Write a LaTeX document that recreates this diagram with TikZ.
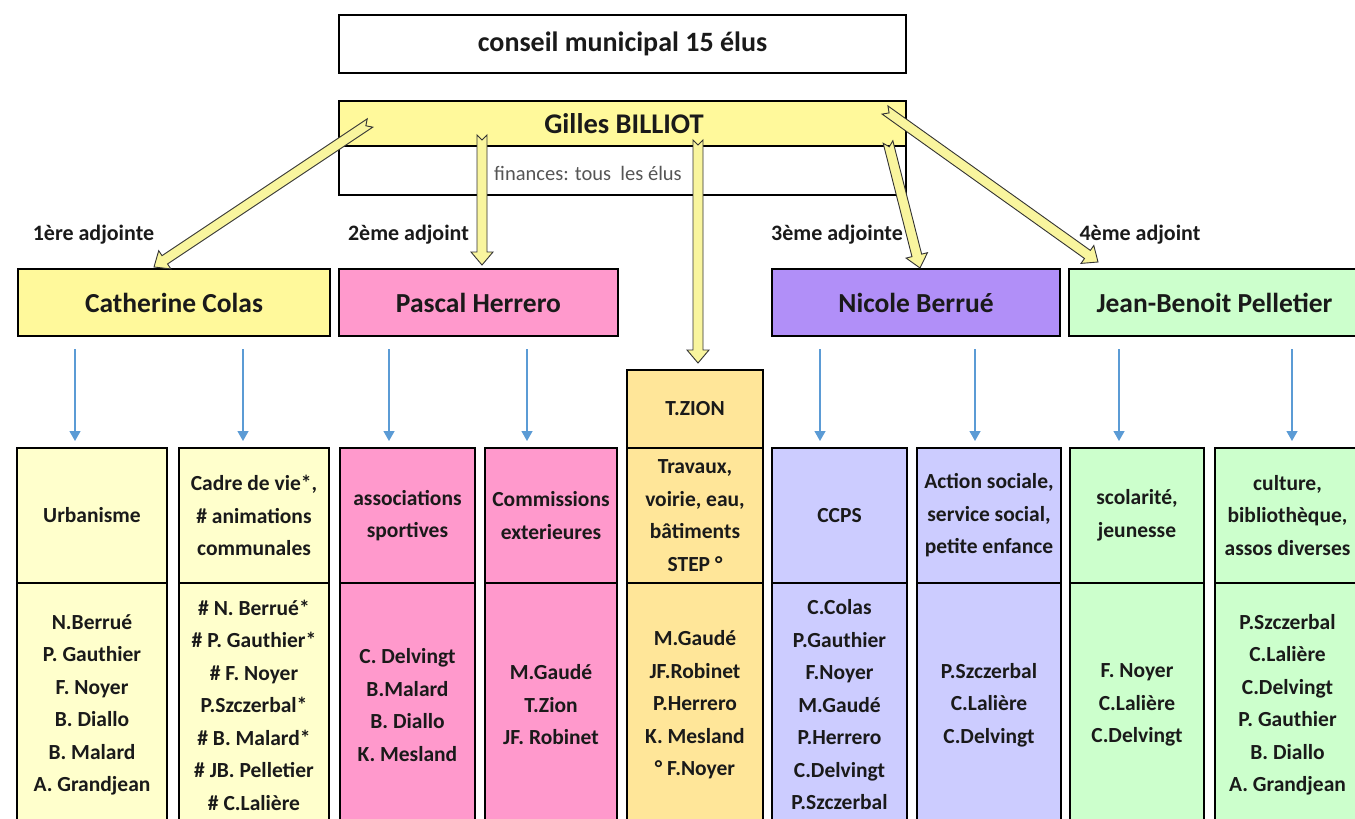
\documentclass[tikz,border=0pt]{standalone}
\usepackage{fontspec}
\setmainfont{Carlito}
\usetikzlibrary{calc,arrows.meta}

\definecolor{yel}{HTML}{FFF99B}
\definecolor{yelarrow}{HTML}{F9F59E}
\definecolor{pinkc}{HTML}{FF99CC}
\definecolor{purp}{HTML}{B18FF8}
\definecolor{greenc}{HTML}{CCFFCC}
\definecolor{lyel}{HTML}{FFFFCC}
\definecolor{tz}{HTML}{FFE699}
\definecolor{lpurp}{HTML}{CCCCFF}
\definecolor{bluea}{HTML}{5B9BD5}
\definecolor{txt}{HTML}{1A1A1A}
\definecolor{fintxt}{HTML}{555555}

\tikzset{
  box/.style={draw=black, line width=2pt, inner sep=0pt, align=center, text=txt},
  headbox/.style={box, font=\bfseries\fontsize{27.5}{32}\selectfont, minimum height=67pt},
  subbox/.style={box, font=\bfseries\fontsize{21.5}{32.5}\selectfont},
  toppart/.style={subbox, minimum height=135pt},
  botpart/.style={subbox, minimum height=244pt},
  lbl/.style={inner sep=0pt, text=txt, font=\bfseries\fontsize{22}{26}\selectfont},
  blockarr/.style={fill=yelarrow, draw=black!80, line width=0.9pt, line join=miter},
  bluearr/.style={draw=bluea, line width=1.3pt, -{Triangle[width=11pt,length=10pt]}}
}

\newcommand\blockarrow[2]{%
  \coordinate (#1hd) at ($(#2)!13pt!(#1)$);
  \draw[blockarr] ($(#1)!5pt!(#2)$) -- ($(#1)!5pt!90:(#2)$)
    -- ($(#1hd)!5pt!-90:(#1)$) -- ($(#1hd)!11pt!-90:(#1)$)
    -- (#2) -- ($(#1hd)!11pt!90:(#1)$) -- ($(#1hd)!5pt!90:(#1)$)
    -- ($(#1)!5pt!-90:(#2)$) -- cycle;
}

\begin{document}
\begin{tikzpicture}[x=1pt,y=-1pt]
\useasboundingbox[fill=white] (0,0) rectangle (1355,819);

% top
\node[box, fill=white, minimum width=567pt, minimum height=58pt,
      font=\bfseries\fontsize{28}{32}\selectfont] (conseil) at (622.5,44) {conseil municipal 15 élus};
\node[box, fill=yel, minimum width=567pt, minimum height=45pt,
      font=\bfseries\fontsize{28.5}{32}\selectfont] (gilles) at (622.5,123.5) {\hspace*{3pt}Gilles BILLIOT};
\node[box, fill=white, minimum width=567pt, minimum height=49pt] (fin) at (622.5,170.5) {};
\node[inner sep=0pt, text=fintxt, font=\fontsize{20.5}{24}\selectfont] (fintext) at (588,173) {finances: tous\ \ les élus};

% adjoints
\node[headbox, fill=yel, minimum width=312pt] (cath) at (174,302.5) {Catherine Colas};
\node[headbox, fill=pinkc, minimum width=279pt] (pasc) at (478.5,302.5) {Pascal Herrero};
\node[headbox, fill=purp, minimum width=288pt] (nico) at (916,302.5) {Nicole Berrué};
\node[headbox, fill=greenc, minimum width=291pt] (jean) at (1214.5,302.5) {Jean-Benoit Pelletier};

% labels
\node[lbl] (l1) at (93.5,235) {1ère adjointe};
\node[lbl] (l2) at (408.5,235) {2ème adjoint};
\node[lbl] (l3) at (837,235) {3ème adjointe};
\node[lbl] (l4) at (1140,235) {4ème adjoint};

% commissions
\node[toppart, fill=lyel, minimum width=150pt] (h1) at (92,515.5) {Urbanisme};
\node[botpart, fill=lyel, minimum width=150pt] (d1) at (92,705) {N.Berrué\\P. Gauthier\\F. Noyer\\B. Diallo\\B. Malard\\A. Grandjean};

\node[toppart, fill=lyel, minimum width=150pt] (h2) at (254,515.5) {Cadre de vie*,\\\# animations\\communales};
\node[botpart, fill=lyel, minimum width=150pt] (d2) at (254,705) {\# N. Berrué*\\\# P. Gauthier*\\\# F. Noyer\\P.Szczerbal*\\\# B. Malard*\\\# JB. Pelletier\\\# C.Lalière};

\node[toppart, fill=pinkc, minimum width=135pt] (h3) at (407.5,515.5) {associations\\sportives};
\node[botpart, fill=pinkc, minimum width=135pt] (d3) at (407.5,705) {C. Delvingt\\B.Malard\\B. Diallo\\K. Mesland};

\node[toppart, fill=pinkc, minimum width=132pt] (h4) at (551,515.5) {Commissions\\exterieures};
\node[botpart, fill=pinkc, minimum width=132pt] (d4) at (551,705) {M.Gaudé\\T.Zion\\JF. Robinet};

\node[subbox, fill=tz, minimum width=136pt, minimum height=78pt] (t5) at (695,409) {T.ZION};
\node[toppart, fill=tz, minimum width=136pt] (h5) at (695,515.5) {Travaux,\\voirie, eau,\\bâtiments\\STEP °};
\node[botpart, fill=tz, minimum width=136pt] (d5) at (695,705) {M.Gaudé\\JF.Robinet\\P.Herrero\\K. Mesland\\° F.Noyer};

\node[toppart, fill=lpurp, minimum width=135pt] (h6) at (839.5,515.5) {CCPS};
\node[botpart, fill=lpurp, minimum width=135pt] (d6) at (839.5,705) {C.Colas\\P.Gauthier\\F.Noyer\\M.Gaudé\\P.Herrero\\C.Delvingt\\P.Szczerbal};

\node[toppart, fill=lpurp, minimum width=144pt] (h7) at (989,515.5) {Action sociale,\\service social,\\petite enfance};
\node[botpart, fill=lpurp, minimum width=144pt] (d7) at (989,705) {P.Szczerbal\\C.Lalière\\C.Delvingt};

\node[toppart, fill=greenc, minimum width=134pt] (h8) at (1137,515.5) {scolarité,\\jeunesse};
\node[botpart, fill=greenc, minimum width=134pt] (d8) at (1137,705) {F. Noyer\\C.Lalière\\C.Delvingt};

\node[toppart, fill=greenc, minimum width=145pt] (h9) at (1287.5,515.5) {culture,\\bibliothèque,\\assos diverses};
\node[botpart, fill=greenc, minimum width=145pt] (d9) at (1287.5,705) {P.Szczerbal\\C.Lalière\\C.Delvingt\\P. Gauthier\\B. Diallo\\A. Grandjean};

% blue arrows
\foreach \i/\x in {1/75,2/243,3/389,4/527,6/820,7/975,8/1119,9/1292}{
  \coordinate (bs\i) at (\x,349);
  \coordinate (be\i) at (\x,441);
  \draw[bluearr] (bs\i) -- (be\i);
}

% block arrows
\coordinate (a1) at (370,123); \coordinate (a1e) at (154,267);
\coordinate (a2) at (482,135); \coordinate (a2e) at (482,265);
\coordinate (aT) at (698,140); \coordinate (aTe) at (698,363);
\coordinate (a3) at (888,142); \coordinate (a3e) at (920,268);
\coordinate (a4) at (885,110); \coordinate (a4e) at (1098,262);
\blockarrow{a1}{a1e}
\blockarrow{a2}{a2e}
\blockarrow{aT}{aTe}
\blockarrow{a3}{a3e}
\blockarrow{a4}{a4e}
\end{tikzpicture}
\end{document}
